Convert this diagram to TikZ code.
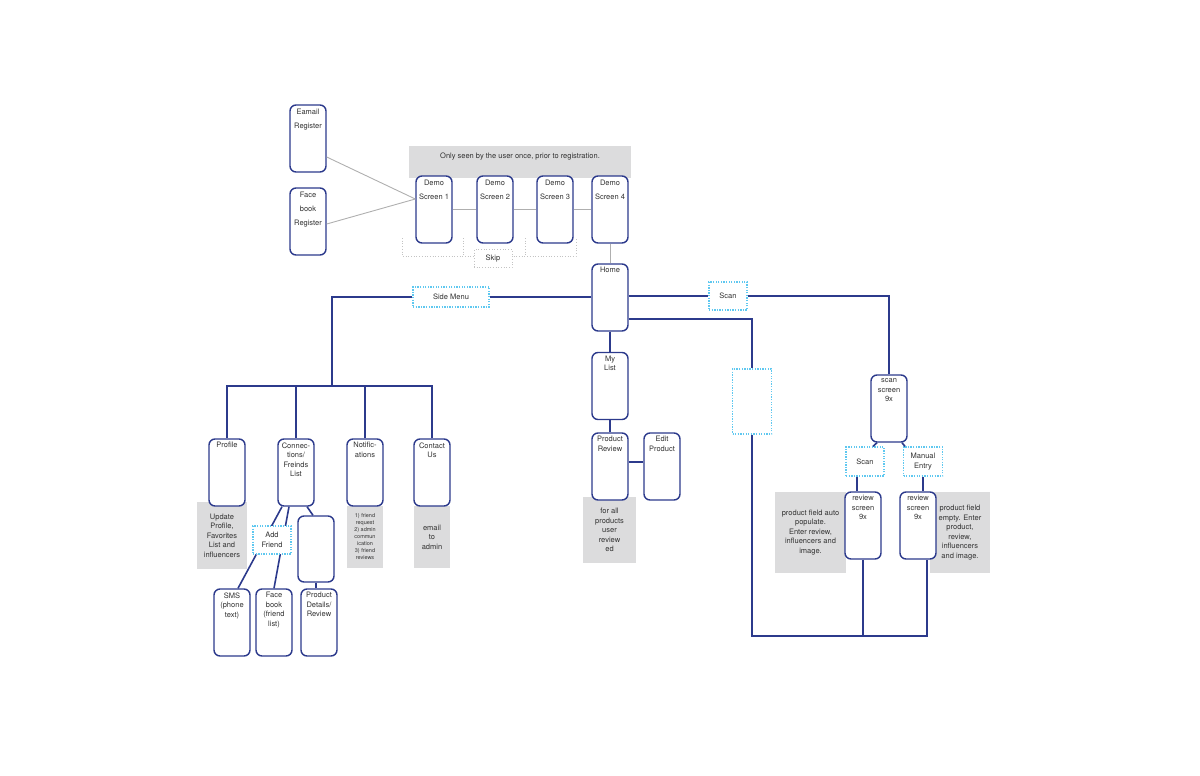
\documentclass[tikz,border=0pt]{standalone}
\usepackage{fontspec}
\setmainfont{TeX Gyre Heros}
\definecolor{navy}{RGB}{44,58,140}
\definecolor{ink}{RGB}{50,50,50}
\definecolor{shade}{RGB}{220,220,221}
\definecolor{sky}{RGB}{95,200,240}
\definecolor{wire}{RGB}{175,175,175}
\definecolor{faintgray}{RGB}{195,195,195}
\tikzset{
  screen/.style={rectangle, draw=navy, line width=1.4pt, fill=white, rounded corners=6pt, minimum width=36pt, minimum height=67pt, inner sep=0pt},
  inlabel/.style={anchor=north, inner sep=4pt, align=center, text=ink, font=\fontsize{7.5}{9.5}\selectfont},
  tall/.style={inlabel, inner sep=4.5pt, font=\fontsize{7.5}{13.8}\selectfont},
  note/.style={rectangle, fill=shade, inner sep=0pt, align=center, text=ink, font=\fontsize{7.5}{9.5}\selectfont},
  tab/.style={rectangle, draw=sky, line width=1.3pt, dash pattern=on 1.3pt off 1.3pt, fill=white, align=center, text=ink, inner sep=0pt, font=\fontsize{7.5}{9.5}\selectfont},
  link/.style={draw=navy, line width=1.6pt},
  wireline/.style={draw=wire, line width=0.9pt},
  skipline/.style={draw=faintgray, line width=0.7pt, dotted}
}
\begin{document}
\begin{tikzpicture}[x=1pt, y=-1pt]
\useasboundingbox (0,0) rectangle (1200,776);
% grey notes, behind the screens
\node (banner) [rectangle, fill=shade, minimum width=222pt, minimum height=32pt, label={[inlabel, inner sep=7pt]north:{Only seen by the user once, prior to registration.}}] at (520,162) {};
\node (profnote) [note, minimum width=50pt, minimum height=67pt] at (222,535.5) {Update\\Profile,\\Favorites\\List and\\influencers};
\node (notifnote) [note, minimum width=36pt, minimum height=62pt, font=\fontsize{5.5}{7}\selectfont] at (365,537) {1) friend\\request\\2) admin\\commun\\ication\\3) friend\\reviews};
\node (contnote) [note, minimum width=36pt, minimum height=62pt] at (432,537) {email\\to\\admin};
\node (revnote) [note, minimum width=53pt, minimum height=66pt] at (609.5,530) {for all\\products\\user\\review\\ed};
\node (notea) [note, minimum width=71pt, minimum height=81pt] at (810.5,532.5) {product field auto\\populate.\\Enter review,\\influencers and\\image.};
\node (noteb) [note, minimum width=60pt, minimum height=81pt] at (960,532.5) {product field\\empty. Enter\\product,\\review,\\influencers\\and image.};
% screens
\node (emailreg) [screen, label={[tall]north:{Eamail\\Register}}] at (308,138.5) {};
\node (fbreg) [screen, label={[tall]north:{Face\\book\\Register}}] at (308,221.5) {};
\node (demo1) [screen, label={[tall]north:{Demo\\Screen 1}}] at (434,209.5) {};
\node (demo2) [screen, label={[tall]north:{Demo\\Screen 2}}] at (495,209.5) {};
\node (demo3) [screen, label={[tall]north:{Demo\\Screen 3}}] at (555,209.5) {};
\node (demo4) [screen, label={[tall]north:{Demo\\Screen 4}}] at (610,209.5) {};
\node (home) [screen, label={[inlabel]north:Home}] at (610,297.5) {};
\node (mylist) [screen, label={[inlabel]north:{My\\List}}] at (610,386) {};
\node (prodrev) [screen, label={[inlabel]north:{Product\\Review}}] at (610,466.5) {};
\node (editprod) [screen, label={[inlabel]north:{Edit\\Product}}] at (662,466.5) {};
\node (scanscr) [screen, label={[inlabel]north:{scan\\screen\\9x}}] at (889,408.5) {};
\node (revA) [screen, label={[inlabel]north:{review\\screen\\9x}}] at (863,525.5) {};
\node (revB) [screen, label={[inlabel]north:{review\\screen\\9x}}] at (918,525.5) {};
\node (profile) [screen, label={[inlabel]north:Profile}] at (227,472.5) {};
\node (connect) [screen, label={[inlabel]north:{Connec-\\tions/\\Freinds\\List}}] at (296,472.5) {};
\node (notify) [screen, label={[inlabel]north:{Notific-\\ations}}] at (365,472.5) {};
\node (contact) [screen, label={[inlabel]north:{Contact\\Us}}] at (432,472.5) {};
\node (blank) [screen, minimum height=66pt] at (316,549) {};
\node (proddet) [screen, label={[inlabel]north:{Product\\Details/\\Review}}] at (319,622.5) {};
\node (sms) [screen, label={[inlabel]north:{SMS\\(phone\\text)}}] at (232,622.5) {};
\node (fbfriend) [screen, label={[inlabel]north:{Face\\book\\(friend\\list)}}] at (274,622.5) {};
% dotted tabs
\node (sidemenu) [tab, minimum width=76pt, minimum height=20pt] at (451,297) {Side Menu};
\node (scantab) [tab, minimum width=38pt, minimum height=28pt] at (728,296) {Scan};
\node (wish) [tab, minimum width=39pt, minimum height=65pt] at (752,401.5) {};
\node (scanopt) [tab, minimum width=38pt, minimum height=29pt] at (865,461.5) {Scan};
\node (manual) [tab, minimum width=39pt, minimum height=29pt] at (923,461.5) {Manual\\Entry};
\coordinate (menubus) at (332,386);
\coordinate (baseR) at (927,636);
\coordinate (skA) at (402,238);
\coordinate (skB) at (463,238);
\coordinate (skC) at (525,238);
\coordinate (skD) at (576,238);
% onboarding
\draw[wireline] ([yshift=-18.5pt]emailreg.east) -- ([yshift=10.5pt]demo1.west);
\draw[wireline] ([yshift=-2.5pt]fbreg.east) -- ([yshift=10.5pt]demo1.west);
\draw[wireline] (demo1.east) -- (demo2.west);
\draw[wireline] (demo2.east) -- (demo3.west);
\draw[wireline] (demo3.east) -- (demo4.west);
\draw[wireline] (demo4.south) -- (home.north);
\draw[skipline] (skA) -- ++(0,18) -- ([yshift=-18pt]skD) -- (skD);
\draw[skipline] (skB) -- ++(0,18);
\draw[skipline] (skC) -- ++(0,18);
\node (skip) [rectangle, draw=faintgray, line width=0.7pt, dotted, fill=white, minimum width=38pt, minimum height=18pt, text=ink, font=\fontsize{7.5}{9.5}\selectfont] at (493,258.5) {Skip};
% side menu
\draw[link] (home.west |- sidemenu.east) -- (sidemenu.east);
\draw[link] (sidemenu.west) -| (menubus);
\draw[link] (menubus) -| (profile.north);
\draw[link] (menubus) -| (connect.north);
\draw[link] (menubus) -| (notify.north);
\draw[link] (menubus) -| (contact.north);
\draw[link] ([xshift=-14pt]connect.south) -- ([xshift=6pt]sms.north);
\draw[link] ([xshift=-7pt]connect.south) -- (fbfriend.north);
\draw[link] ([xshift=11pt]connect.south) -- ([xshift=-3pt]blank.north);
\draw[link] (blank.south) -- (blank.south |- proddet.north);
\node (addfriend) [tab, minimum width=38pt, minimum height=28pt] at (272,540) {Add\\Friend};
% my list
\draw[link] (home.south) -- (mylist.north);
\draw[link] (mylist.south) -- (prodrev.north);
\draw[link] ([yshift=4.5pt]prodrev.east) -- ([yshift=4.5pt]editprod.west);
% scan
\draw[link] (home.east |- scantab.west) -- (scantab.west);
\draw[link] (scantab.east) -| (scanscr.north);
\draw[link] ([xshift=-12pt]scanscr.south) -- ([xshift=8pt]scanopt.north);
\draw[link] ([xshift=13pt]scanscr.south) -- ([xshift=-18pt]manual.north);
\draw[link] ([xshift=-8pt]scanopt.south) -- ([xshift=-8pt]scanopt.south |- revA.north);
\draw[link] (manual.south) -- (manual.south |- revB.north);
\draw[link] ([yshift=-21.5pt]home.east) -| (wish.north);
\draw[link] (wish.south) |- (baseR) -- (baseR |- revB.south);
\draw[link] (revA.south) -- (revA.south |- baseR);
\end{tikzpicture}
\end{document}
